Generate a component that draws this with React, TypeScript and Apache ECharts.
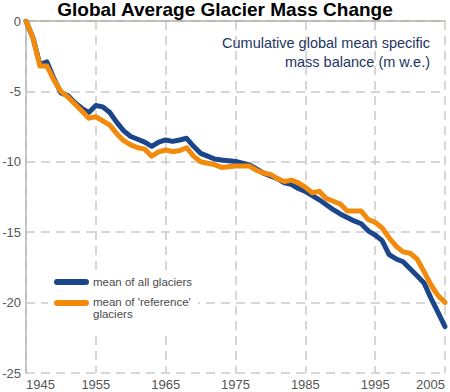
import React, { useEffect, useRef } from "react";
import * as echarts from "echarts";

const years: number[] = [];
for (let y = 1945; y <= 2005; y++) years.push(y);

const allGlaciers = [
  0, -1.2, -3.1, -2.9, -4.1, -5.1, -5.3, -5.8, -6.2, -6.5,
  -6.0, -6.1, -6.5, -7.2, -7.8, -8.2, -8.4, -8.6, -8.9, -8.6,
  -8.45, -8.55, -8.45, -8.33, -8.9, -9.4, -9.6, -9.8, -9.87, -9.92,
  -9.98, -10.1, -10.23, -10.5, -10.8, -11.0, -11.2, -11.5, -11.6, -11.9,
  -12.1, -12.4, -12.7, -13.05, -13.4, -13.7, -13.95, -14.2, -14.4, -14.9,
  -15.2, -15.6, -16.6, -16.9, -17.1, -17.6, -18.1, -18.6, -19.7, -20.7,
  -21.7,
];

const referenceGlaciers = [
  0, -1.2, -3.2, -3.2, -4.2, -5.0, -5.4, -5.9, -6.4, -6.9,
  -6.8, -7.1, -7.4, -8.0, -8.5, -8.8, -9.0, -9.1, -9.6, -9.3,
  -9.16, -9.28, -9.2, -9.0, -9.6, -10.0, -10.1, -10.2, -10.4, -10.35,
  -10.3, -10.3, -10.3, -10.6, -10.8, -10.9, -11.2, -11.4, -11.3, -11.5,
  -11.8, -12.2, -12.1, -12.6, -12.8, -13.0, -13.5, -13.5, -13.5, -14.1,
  -14.3, -14.7, -15.4, -16.0, -16.4, -16.5, -16.9, -17.8, -18.75, -19.5,
  -20.0,
];

const seriesNames = ["mean of all glaciers", "mean of 'reference'\nglaciers"];
const titleText = "Global Average Glacier Mass Change";
const subtitleText = "Cumulative global mean specific\nmass balance (m w.e.)";

const BLUE = "#1b478a";
const ORANGE = "#f28a0c";

export default function App() {
  const ref = useRef<HTMLDivElement>(null);
  useEffect(() => {
    if (!ref.current) return;
    const chart = echarts.init(ref.current, undefined, { renderer: "svg" });
    const gridLine = { type: [9, 6] as any, color: "#cacaca", width: 1.5 };
    const axisFont = "'Liberation Sans Narrow', 'Liberation Sans', Arial, sans-serif";
    const legendFont = "11.5px 'Liberation Sans', Arial, sans-serif";
    chart.setOption({
      animation: false,
      backgroundColor: "#fff",
      title: {
        text: titleText,
        left: "center",
        top: 0,
        padding: 0,
        textStyle: {
          fontFamily: "'Liberation Sans', Arial, sans-serif",
          fontSize: 19,
          lineHeight: 19,
          fontWeight: "bold",
          color: "#000",
        },
      },
      grid: {
        left: 26,
        right: 5,
        top: 21,
        bottom: 19,
        containLabel: false,
        outerBoundsMode: "none",
      },
      xAxis: {
        type: "value",
        min: 1945,
        max: 2005,
        interval: 10,
        axisLine: { show: true, lineStyle: { color: "#b8aea6", width: 1.5 } },
        axisTick: { show: false },
        axisLabel: {
          color: "#555",
          fontSize: 13,
          fontFamily: axisFont,
          margin: 5,
          alignMinLabel: "left",
          alignMaxLabel: "right",
          formatter: (v: number) => String(v),
        },
        splitLine: { show: true, lineStyle: gridLine },
      },
      yAxis: {
        type: "value",
        min: -25,
        max: 0,
        interval: 5,
        axisLine: { show: true, onZero: false, lineStyle: { color: "#b8b8b8", width: 1.5 } },
        axisTick: { show: false },
        axisLabel: { color: "#555", fontSize: 13, fontFamily: axisFont, margin: 5 },
        splitLine: { show: true, lineStyle: gridLine },
      },
      series: [
        {
          name: seriesNames[0],
          type: "line",
          data: years.map((y, i) => [y, allGlaciers[i]]),
          showSymbol: false,
          lineStyle: { color: BLUE, width: 5, join: "round", cap: "round" },
          itemStyle: { color: BLUE },
          z: 2,
        },
        {
          name: seriesNames[1],
          type: "line",
          data: years.map((y, i) => [y, referenceGlaciers[i]]),
          showSymbol: false,
          lineStyle: { color: ORANGE, width: 5, join: "round", cap: "round" },
          itemStyle: { color: ORANGE },
          z: 3,
        },
      ],
      graphic: [
        {
          type: "text",
          x: 430,
          y: 33,
          z: 100,
          style: {
            text: subtitleText,
            align: "right",
            fill: "#1d3563",
            font: "14.5px 'Liberation Sans', Arial, sans-serif",
            lineHeight: 19,
          },
        },
        {
          type: "rect",
          z: 100,
          shape: { x: 48, y: 272, width: 150, height: 64 },
          style: { fill: "#fff" },
        },
        {
          type: "line",
          z: 101,
          shape: { x1: 57, y1: 282, x2: 86, y2: 282 },
          style: { stroke: BLUE, lineWidth: 6, lineCap: "round" },
        },
        {
          type: "line",
          z: 101,
          shape: { x1: 57, y1: 303, x2: 86, y2: 303 },
          style: { stroke: ORANGE, lineWidth: 6, lineCap: "round" },
        },
        {
          type: "text",
          z: 101,
          x: 93,
          y: 282,
          style: {
            text: seriesNames[0],
            fill: "#4a4a4a",
            font: legendFont,
            verticalAlign: "middle",
          },
        },
        {
          type: "text",
          z: 101,
          x: 93,
          y: 296,
          style: {
            text: seriesNames[1],
            fill: "#4a4a4a",
            font: legendFont,
            lineHeight: 12,
            verticalAlign: "top",
          },
        },
      ],
    });
    return () => chart.dispose();
  }, []);
  return <div ref={ref} style={{ width: 450, height: 392, position: "absolute", left: 0, top: 0 }} />;
}
